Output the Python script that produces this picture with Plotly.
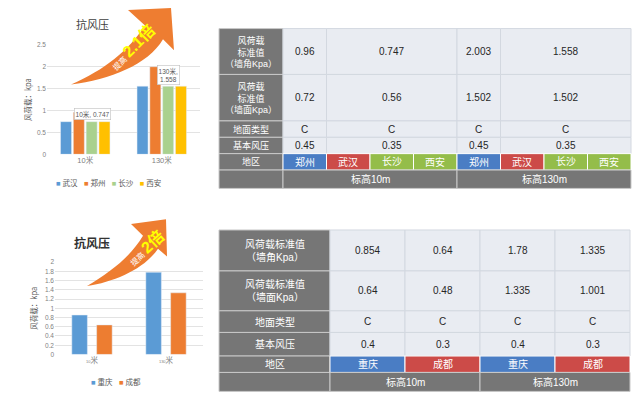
import plotly.graph_objects as go

# ---------------- data ----------------
chart_cats = ["10米", "130米"]

top_series = ["武汉", "郑州", "长沙", "西安"]
top_values = {
    "武汉": [0.747, 1.558],
    "郑州": [0.96, 2.003],
    "长沙": [0.747, 1.558],
    "西安": [0.747, 1.558],
}
top_colors = ["#5b9bd5", "#ed7d31", "#a9d18e", "#ffc000"]
top_title = "抗风压"
top_ytitle = "风荷载：kpa"
top_boost = "2.1倍"

bot_series = ["重庆", "成都"]
bot_values = {
    "重庆": [0.854, 1.78],
    "成都": [0.64, 1.335],
}
bot_colors = ["#5b9bd5", "#ed7d31"]
bot_title = "抗风压"
bot_ytitle = "风荷载：kpa"
bot_boost = "2倍"

# top table
t1_labels = ["风荷载<br>标准值<br>（墙角Kpa）", "风荷载<br>标准值<br>（墙面Kpa）", "地面类型", "基本风压", "地区", ""]
t1_regions = ["郑州", "武汉", "长沙", "西安"]
t1_region_colors = ["#4a7dc4", "#cc4b48", "#94bd4a", "#94bd4a"]
t1_heights = ["标高10m", "标高130m"]
t1_corner = [0.96, 0.747, 2.003, 1.558]
t1_wall = [0.72, 0.56, 1.502, 1.502]
t1_terrain = ["C", "C", "C", "C"]
t1_basic = [0.45, 0.35, 0.45, 0.35]
t1_spans = [1, 3, 1, 3]

# bottom table
t2_labels = ["风荷载标准值<br>（墙角Kpa）", "风荷载标准值<br>（墙面Kpa）", "地面类型", "基本风压", "地区", ""]
t2_regions = ["重庆", "成都"]
t2_region_colors = ["#4a7dc4", "#cc4b48"]
t2_heights = ["标高10m", "标高130m"]
t2_corner = [0.854, 0.64, 1.78, 1.335]
t2_wall = [0.64, 0.48, 1.335, 1.001]
t2_terrain = ["C", "C", "C", "C"]
t2_basic = [0.4, 0.3, 0.4, 0.3]
t2_spans = [1, 1, 1, 1]

# ---------------- helpers ----------------
W, H = 640, 400
FONT = "Liberation Sans, Noto Sans CJK SC"
CJK = "Noto Sans CJK SC"
HEAD_GRAY = "#767676"
CELL = "#e9ecf2"
CELL_LINE = "#d3d8e0"


def px(x):
    return x / W


def py(y):
    return 1 - y / H


def P(x, y):
    return f"{px(x):.5f},{py(y):.5f}"


shapes = []
annotations = []


def rect(x0, y0, x1, y1, fill, line, lw=1):
    shapes.append(dict(type="rect", xref="paper", yref="paper",
                       x0=px(x0), x1=px(x1), y0=py(y1), y1=py(y0),
                       fillcolor=fill, line=dict(color=line, width=lw), layer="above"))


def text(x, y, s, color, size, family=FONT, **kw):
    annotations.append(dict(xref="paper", yref="paper", x=px(x), y=py(y), text=s,
                            showarrow=False, font=dict(family=family, size=size, color=color),
                            xanchor="center", yanchor="middle", **kw))


def table(x0, xh, cw, ys, labels, value_rows, spans, regions, rcolors, heights,
          ncols, head_size, val_size):
    for i, lab in enumerate(labels):
        rect(x0, ys[i], xh, ys[i + 1], HEAD_GRAY, "#c8c8c8", 1)
        if lab:
            text((x0 + xh) / 2, (ys[i] + ys[i + 1]) / 2, lab, "white", head_size)
    for r, vals in enumerate(value_rows):
        c = 0
        for v, s in zip(vals, spans):
            xa = xh + c * cw
            xb = xa + s * cw
            rect(xa, ys[r], xb, ys[r + 1], CELL, CELL_LINE, 1)
            text((xa + xb) / 2, (ys[r] + ys[r + 1]) / 2, str(v), "#262626", val_size)
            c += s
    r = len(value_rows)
    for k in range(ncols):
        xa = xh + k * cw
        name = regions[k % len(regions)]
        col = rcolors[k % len(regions)]
        rect(xa, ys[r], xa + cw, ys[r + 1], col, "white", 1)
        text(xa + cw / 2, (ys[r] + ys[r + 1]) / 2, name, "white", val_size)
    r += 1
    per = ncols // len(heights)
    for k, h in enumerate(heights):
        xa = xh + k * per * cw
        xb = xa + per * cw
        rect(xa, ys[r], xb, ys[r + 1], HEAD_GRAY, "#c8c8c8", 1)
        text((xa + xb) / 2, (ys[r] + ys[r + 1]) / 2, h, "white", val_size)


# ---------------- figure ----------------
fig = go.Figure()

for name, col in zip(top_series, top_colors):
    fig.add_trace(go.Bar(x=chart_cats, y=top_values[name], name=name, marker_color=col,
                         xaxis="x", yaxis="y", showlegend=False))
for name, col in zip(bot_series, bot_colors):
    fig.add_trace(go.Bar(x=chart_cats, y=bot_values[name], name=name, marker_color=col,
                         width=0.21, xaxis="x2", yaxis="y2", showlegend=False))

tick_font = dict(family=FONT, size=6.5, color="#7f7f7f")
fig.update_layout(
    width=W, height=H, margin=dict(l=0, r=0, t=0, b=0),
    paper_bgcolor="white", plot_bgcolor="white",
    barmode="group", bargap=0.33, bargroupgap=0.14,
    xaxis=dict(domain=[px(47), px(200)], anchor="y", showgrid=False, showline=False,
               tickfont=dict(family=FONT, size=7.5, color="#7f7f7f"), ticks=""),
    yaxis=dict(domain=[py(153), py(41.7)], anchor="x", range=[0, 2.5], dtick=0.5,
               gridcolor="#e3e3e3", gridwidth=1, zeroline=False, showline=False,
               tickfont=tick_font, ticks="",
               title=dict(text=top_ytitle, font=dict(family=CJK, size=7.5, color="#595959"),
                          standoff=4)),
    xaxis2=dict(domain=[px(55), px(203)], anchor="y2", showgrid=False, showline=False,
                tickfont=dict(family=FONT, size=7.5, color="#7f7f7f"), ticks="",
                tickvals=chart_cats,
                ticktext=[f"<span style='font-size:4px'>{c[:-1]}</span>{c[-1]}" for c in chart_cats]),
    yaxis2=dict(domain=[py(356.7), py(262.7)], anchor="x2", range=[0, 2], dtick=0.2,
                gridcolor="#e3e3e3", gridwidth=1, zeroline=False, showline=False,
                tickfont=tick_font, ticks="",
                title=dict(text=bot_ytitle, font=dict(family=CJK, size=7.5, color="#595959"),
                           standoff=6)),
)

# data labels on top chart
annotations.append(dict(xref="x", yref="y", x=chart_cats[0], y=top_values["长沙"][0],
                        text=f"{chart_cats[0]}, {top_values['长沙'][0]}", showarrow=False,
                        xshift=7, yshift=2, yanchor="bottom",
                        font=dict(family=FONT, size=6.5, color="#595959"),
                        bgcolor="white", bordercolor="#bfbfbf", borderwidth=0.6, borderpad=1))
annotations.append(dict(xref="x", yref="y", x=chart_cats[1], y=top_values["长沙"][1],
                        text=f"{chart_cats[1]},<br>{top_values['长沙'][1]}", showarrow=False,
                        xshift=7, yshift=1, yanchor="bottom",
                        font=dict(family=FONT, size=6.5, color="#595959"),
                        bgcolor="white", bordercolor="#bfbfbf", borderwidth=0.6, borderpad=1))

# arrows
ARROW = "#ee7d31"
top_arrow = (f"M {P(71,82)} C {P(110,77)} {P(148,62)} {P(163,36)} L {P(174,47)} "
             f"L {P(171,4)} L {P(128,6)} L {P(145,22)} C {P(128,48)} {P(105,67)} {P(71,82)} Z")
bot_arrow = (f"M {P(87,287)} C {P(115,283)} {P(145,269)} {P(158,249)} L {P(167,257)} "
             f"L {P(166,219)} L {P(131,224)} L {P(143,236)} C {P(130,258)} {P(110,273)} {P(87,287)} Z")
for pth in (top_arrow, bot_arrow):
    shapes.append(dict(type="path", xref="paper", yref="paper", path=pth,
                       fillcolor=ARROW, line=dict(width=0), layer="above"))

text(132, 44, f"提高 <span style='font-size:16px;color:#ffff00'><b>{top_boost}</b></span>",
     "white", 8, textangle=-45)
text(145, 248, f"提高 <span style='font-size:16px;color:#ffff00'><b>{bot_boost}</b></span>",
     "white", 8, textangle=-42)

# titles
text(92, 20, top_title, "#404040", 11, family=CJK)
text(92, 243, f"<b>{bot_title}</b>", "#333333", 12, family=CJK)


# manual legends
def legend_text(names, colors):
    return "   ".join(f"<span style='color:{c}'>■</span> {n}" for n, c in zip(names, colors))


text(109, 182, legend_text(top_series, top_colors), "#595959", 7.5)
text(116, 385, legend_text(bot_series, bot_colors), "#595959", 7.5)

# tables
table(219, 283, 43.5, [25, 71.7, 119, 135.7, 152.3, 169, 187.7], t1_labels,
      [t1_corner, t1_wall, t1_terrain, t1_basic], t1_spans, t1_regions, t1_region_colors,
      t1_heights, 8, 9, 10)
table(219, 330, 75, [230, 271.7, 312.3, 334.3, 358.3, 375, 394.3], t2_labels,
      [t2_corner, t2_wall, t2_terrain, t2_basic], t2_spans, t2_regions, t2_region_colors,
      t2_heights, 4, 10, 10)

fig.update_layout(shapes=shapes, annotations=annotations)
fig.write_html("out.html", config={"displayModeBar": False},
               post_script="document.body.style.margin='0';document.body.style.overflow='hidden';")
